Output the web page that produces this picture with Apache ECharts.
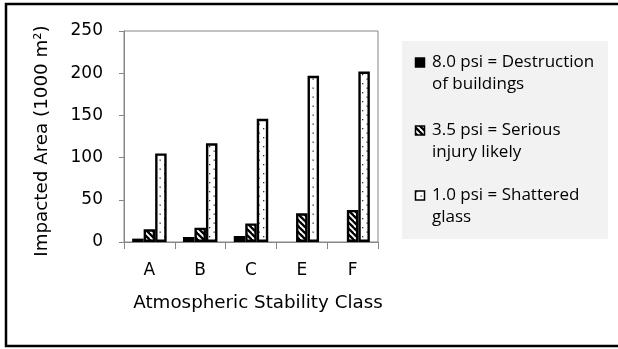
<!DOCTYPE html>
<html>
<head>
<meta charset="utf-8">
<script src="https://cdn.jsdelivr.net/npm/echarts@6/dist/echarts.min.js"></script>
<style>
  html, body { margin: 0; padding: 0; background: #fff; }
  #chart { width: 618px; height: 349px; }
</style>
</head>
<body>
<div id="chart"></div>
<script>
// Stability classes on the x axis
const classes = ['A', 'B', 'C', 'E', 'F'];

// Impacted area (1000 m²) per overpressure threshold
const destruction = [4, 6, 7, null, null];
const injury = [15, 17, 22, 34, 38];
const glass = [105, 117, 146, 197, 202];

// Series names, each split over two legend lines
const seriesNames = ['8.0 psi = Destruction', '3.5 psi = Serious', '1.0 psi = Shattered'];
const nameTails = ['of buildings', 'injury likely', 'glass'];

// Y axis range and step
const yMin = 0, yMax = 250, yStep = 50;

const xTitle = 'Atmospheric Stability Class';
const yTitle = 'Impacted Area (1000 m²)';

// Fill patterns drawn on small tiles
function hatchTile() {
  const c = document.createElement('canvas');
  const s = 6;
  c.width = s; c.height = s;
  const g = c.getContext('2d');
  g.fillStyle = '#fff';
  g.fillRect(0, 0, s, s);
  g.strokeStyle = '#000';
  g.lineWidth = 2.3;
  for (const off of [-s, 0, s]) {
    g.beginPath();
    g.moveTo(off - 1, -1);
    g.lineTo(off + s + 1, s + 1);
    g.stroke();
  }
  return { image: c, repeat: 'repeat' };
}
function dotTile() {
  const c = document.createElement('canvas');
  c.width = 9; c.height = 9;
  const g = c.getContext('2d');
  g.fillStyle = '#fff';
  g.fillRect(0, 0, 9, 9);
  g.fillStyle = '#333';
  g.fillRect(2, 2, 1.3, 1.3);
  g.fillRect(6.5, 6.5, 1.3, 1.3);
  return { image: c, repeat: 'repeat' };
}

const fills = ['#000', hatchTile(), dotTile()];
const values = [destruction, injury, glass];

const gray = '#868686';
const tickFont = '"DejaVu Sans", sans-serif';
const legendFont = '"Open Sans", "Noto Sans", sans-serif';
const titleFont = '"DejaVu Sans", sans-serif';

const chart = echarts.init(document.getElementById('chart'), null, { renderer: 'canvas' });

// Legend panel drawn as graphics so the swatch sits beside the first text line
const legendTops = [50.5, 118.5, 183.5];
const legendGraphics = [{
  type: 'rect', shape: { x: 402, y: 41, width: 206, height: 198 },
  style: { fill: '#f2f2f2' }, silent: true
}];
seriesNames.forEach((n, i) => {
  legendGraphics.push({
    type: 'rect', shape: { x: 415.5, y: legendTops[i] + 7.5, width: 9, height: 9 },
    style: { fill: fills[i], stroke: '#000', lineWidth: 1.5 }, silent: true
  });
  legendGraphics.push({
    type: 'text', x: 432, y: legendTops[i],
    style: {
      text: n + '\n' + nameTails[i],
      font: '17px ' + legendFont, fill: '#000',
      lineHeight: 22.5, textVerticalAlign: 'top', textAlign: 'left'
    }, silent: true
  });
});

chart.setOption({
  animation: false,
  backgroundColor: '#fff',
  grid: {
    left: 124, right: 240, top: 31, bottom: 107,
    show: true, borderColor: gray, borderWidth: 1,
    outerBoundsMode: 'none'
  },
  xAxis: {
    type: 'category',
    data: classes,
    axisLine: { lineStyle: { color: gray, width: 1 } },
    axisTick: { show: true, length: 7, lineStyle: { color: gray } },
    axisLabel: { margin: 20, color: '#000', fontSize: 17, fontFamily: tickFont }
  },
  yAxis: {
    type: 'value',
    min: yMin, max: yMax, interval: yStep,
    splitLine: { show: false },
    axisLine: { show: true, lineStyle: { color: gray, width: 1 } },
    axisTick: { show: true, length: 5, lineStyle: { color: gray } },
    axisLabel: { margin: 21, color: '#000', fontSize: 17, fontFamily: tickFont }
  },
  series: values.map((v, i) => ({
    type: 'bar',
    name: seriesNames[i],
    data: v,
    barWidth: 11.5,
    barGap: '0%',
    itemStyle: { color: fills[i], borderColor: '#000', borderWidth: 2.4 },
    emphasis: { disabled: true }
  })),
  graphic: [
    // outer frame
    {
      type: 'rect', shape: { x: 6, y: 4, width: 630, height: 342 },
      style: { fill: null, stroke: '#000', lineWidth: 2.5 }, silent: true
    },
    {
      type: 'text', x: 258, y: 303,
      style: { text: xTitle, font: '18.3px ' + titleFont, fill: '#000', textAlign: 'center', textVerticalAlign: 'middle' },
      silent: true
    },
    {
      type: 'text', x: 42, y: 141, rotation: Math.PI / 2,
      style: { text: yTitle, font: '18.3px ' + titleFont, fill: '#000', textAlign: 'center', textVerticalAlign: 'middle' },
      silent: true
    },
    ...legendGraphics
  ]
});
</script>
</body>
</html>
